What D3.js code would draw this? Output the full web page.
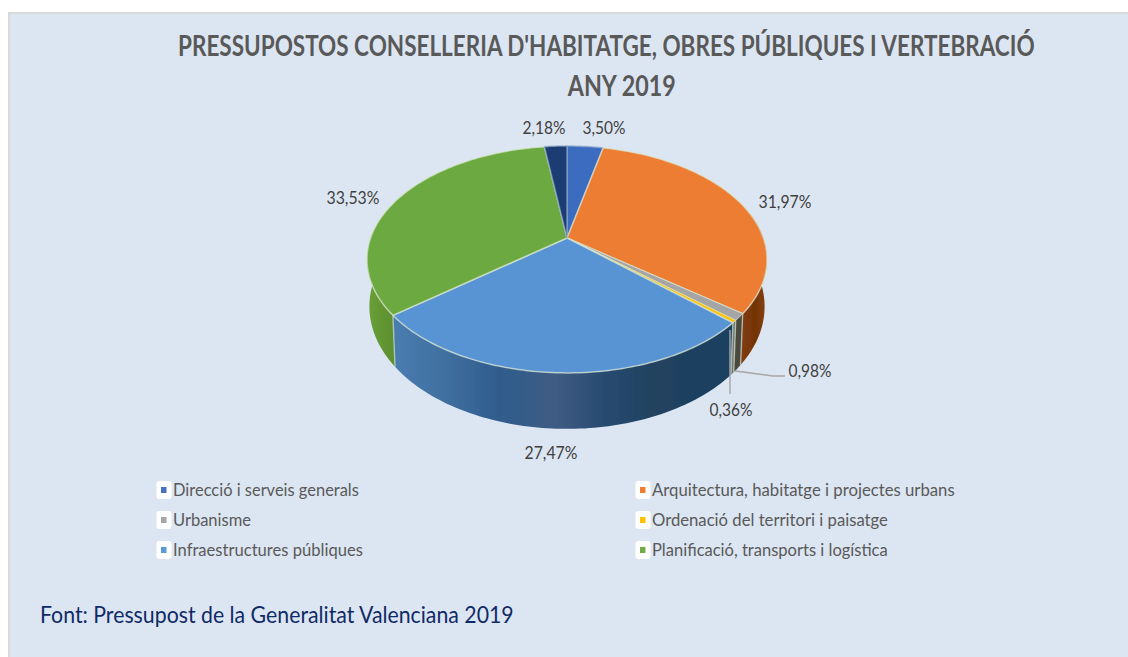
<!DOCTYPE html>
<html lang="ca">
<head>
<meta charset="utf-8">
<script src="https://cdn.jsdelivr.net/npm/d3@7"></script>
<style>
html,body{margin:0;padding:0;background:#fff;overflow:hidden}
text{font-family:Lato,"Open Sans",sans-serif}
</style>
</head>
<body>
<svg id="chart" width="1128" height="657"></svg>
<script>
// ---- data ----
const titleLines = ["PRESSUPOSTOS CONSELLERIA D'HABITATGE, OBRES PÚBLIQUES I VERTEBRACIÓ", "ANY 2019"];
const sliceNames = ["Direcció i serveis generals", "Arquitectura, habitatge i projectes urbans", "Urbanisme", "Ordenació del territori i paisatge", "Infraestructures públiques", "Planificació, transports i logística", "Altres"];
const sliceValues = [3.50, 31.97, 0.98, 0.36, 27.47, 33.53, 2.18];
const sliceLabels = ["3,50%", "31,97%", "0,98%", "0,36%", "27,47%", "33,53%", "2,18%"];
const topColors = ["#3a6cbf", "#ED7D31", "#A5A5A5", "#FFC000", "#5894d3", "#6CA93F", "#1f3d73"];
const legendColors = ["#4472C4", "#ED7D31", "#A5A5A5", "#FFC000", "#5B9BD5", "#70AD47"];
const legendNames = sliceNames.slice(0, 6);
const sourceNote = "Font: Pressupost de la Generalitat Valenciana 2019";

// ---- layout ----
const W = 1128, H = 657;
const cx = 567, cy = 238;
const A = 109.4, B = 196.4, k = 0.189, D = 45.4;
const labelPos = [[604,134],[785,208],[810,377],[731,416],[551,459],[353,204],[544,134]];
const labelW = [43,53,43,43,53,53,43];
const legendX = [156, 635], legendY = [496, 526, 556];
const legendW = [186, 303, 78, 236, 190, 236];

const svg = d3.select("#chart");
const defs = svg.append("defs");
defs.append("filter").attr("id","soft").attr("x","-5%").attr("y","-5%").attr("width","110%").attr("height","110%")
  .append("feGaussianBlur").attr("stdDeviation",0.6);

function grad(id, stops){
  const g = defs.append("linearGradient").attr("id",id).attr("gradientUnits","userSpaceOnUse")
    .attr("x1",367).attr("x2",768).attr("y1",0).attr("y2",0);
  stops.forEach(([o,c])=>g.append("stop").attr("offset",o).attr("stop-color",c));
}
grad("wBlue",[[0.07,"#4a7cb0"],[0.2,"#3f6f9f"],[0.33,"#2f5c8c"],[0.47,"#3f5c84"],[0.6,"#26496f"],[0.72,"#21425f"],[0.92,"#1b3f5e"]]);
grad("wOrange",[[0.9,"#8d4412"],[0.97,"#743405"],[1,"#8a4312"]]);
grad("wGreen",[[0,"#6a9f38"],[0.07,"#5c8f2e"]]);
const wallFill = ["#2b5596","url(#wOrange)","#4b4a3e","#6f7468","url(#wBlue)","url(#wGreen)","#182f58"];

// panel
svg.append("rect").attr("x",9).attr("y",13).attr("width",W+10).attr("height",H+10)
  .attr("fill","#DCE6F2").attr("stroke","#D9D9D9").attr("stroke-width",2);

// projection of the pie plane
function proj(theta, r, z){
  const u = r*Math.sin(theta), v = -r*Math.cos(theta);
  const s = 1/(1 - k*v);
  return [cx + B*u*s*(1 - 0.012*z), cy + A*v*s + D*s*z];
}
function samples(a0,a1){
  const n = Math.max(2, Math.ceil((a1-a0)/0.02));
  return d3.range(n+1).map(i=>a0+(a1-a0)*i/n);
}
const line = d3.line();
const pie = d3.pie().sort(null).value(d=>d)(sliceValues);

const pieG = svg.append("g").attr("filter","url(#soft)");

// side walls: only near part of each slice
const walls = pie.map((p,i)=>{
  const a0 = Math.max(p.startAngle, Math.PI/2 - 0.25), a1 = Math.min(p.endAngle, 3*Math.PI/2 + 0.25);
  return a1>a0 ? {i,a0,a1} : null;
}).filter(Boolean);
pieG.selectAll("path.wall").data(walls).join("path").attr("class","wall")
  .attr("d",d=>{
    const t = samples(d.a0,d.a1);
    return line(t.map(a=>proj(a,1,0)).concat(t.slice().reverse().map(a=>proj(a,1,1))))+"Z";
  })
  .attr("fill",d=>wallFill[d.i]);

// seams between near walls
const seams = pie.filter(p=>p.startAngle>Math.PI/2 && p.startAngle<3*Math.PI/2);
pieG.selectAll("path.seam").data(seams).join("path").attr("class","seam")
  .attr("d",p=>line([proj(p.startAngle,1,0),proj(p.startAngle,1,1)]))
  .attr("stroke","#c4d2cc").attr("stroke-width",1.4).attr("stroke-opacity",0.75).attr("fill","none");

// top faces
pieG.selectAll("path.top").data(pie).join("path").attr("class","top")
  .attr("d",p=>line([[cx,cy]].concat(samples(p.startAngle,p.endAngle).map(a=>proj(a,1,0))))+"Z")
  .attr("fill",(p,i)=>topColors[i])
  .attr("stroke",(p,i)=>i===0||i===6?"#8fa8c4":"#dbe8d4").attr("stroke-width",(p,i)=>(i===2||i===3)?0.9:1.5).attr("stroke-opacity",0.7).attr("stroke-linejoin","round");

// leader lines
const leaders = [[[735,371],[773,376],[785,376]],[[730,330],[730,394]]];
svg.selectAll("path.leader").data(leaders).join("path").attr("class","leader")
  .attr("d",d=>line(d)).attr("fill","none").attr("stroke","#a6a6a6").attr("stroke-width",1.4);

// Places a text at (x,y), anchored start or middle, squeezed horizontally to a target width
function fit(sel, x, y, w, anchor){
  sel.each(function(d,i){
    const t = d3.select(this), natural = this.getComputedTextLength();
    const sx = w(d,i)/natural, px = x(d,i), off = anchor==="middle" ? -w(d,i)/2 : 0;
    t.attr("transform",`translate(${px+off},${y(d,i)}) scale(${sx},1)`);
  });
}

// title
const title = svg.selectAll("text.title").data(titleLines).join("text").attr("class","title")
  .attr("font-size",28).attr("font-weight",700).attr("fill","#595959").text(d=>d);
fit(title,(d,i)=>i===0?606.5:621.7,(d,i)=>i===0?56:96,(d,i)=>i===0?857:108,"middle");

// data labels
const labs = svg.selectAll("text.lab").data(sliceLabels).join("text").attr("class","lab")
  .attr("font-size",17.5).attr("fill","#404040").text(d=>d);
fit(labs,(d,i)=>labelPos[i][0],(d,i)=>labelPos[i][1],(d,i)=>labelW[i],"middle");

// legend
const leg = svg.selectAll("g.leg").data(legendNames).join("g").attr("class","leg")
  .attr("transform",(d,i)=>`translate(${legendX[i%2]},${legendY[Math.floor(i/2)]})`);
leg.append("rect").attr("x",0.5).attr("y",-15).attr("width",15).attr("height",18).attr("rx",3).attr("fill","#fff");
leg.append("rect").attr("x",5).attr("y",-9).attr("width",5.5).attr("height",6).attr("fill",(d,i)=>legendColors[i]);
const legT = leg.append("text").attr("font-size",18).attr("fill","#595959").text(d=>d);
fit(legT,()=>17,()=>0,(d,i)=>legendW[i],"start");

// source
const src = svg.selectAll("text.src").data([sourceNote]).join("text").attr("class","src")
  .attr("font-size",24).attr("fill","#0F2A66").text(d=>d);
fit(src,()=>40,()=>623,()=>474,"start");
</script>
</body>
</html>
